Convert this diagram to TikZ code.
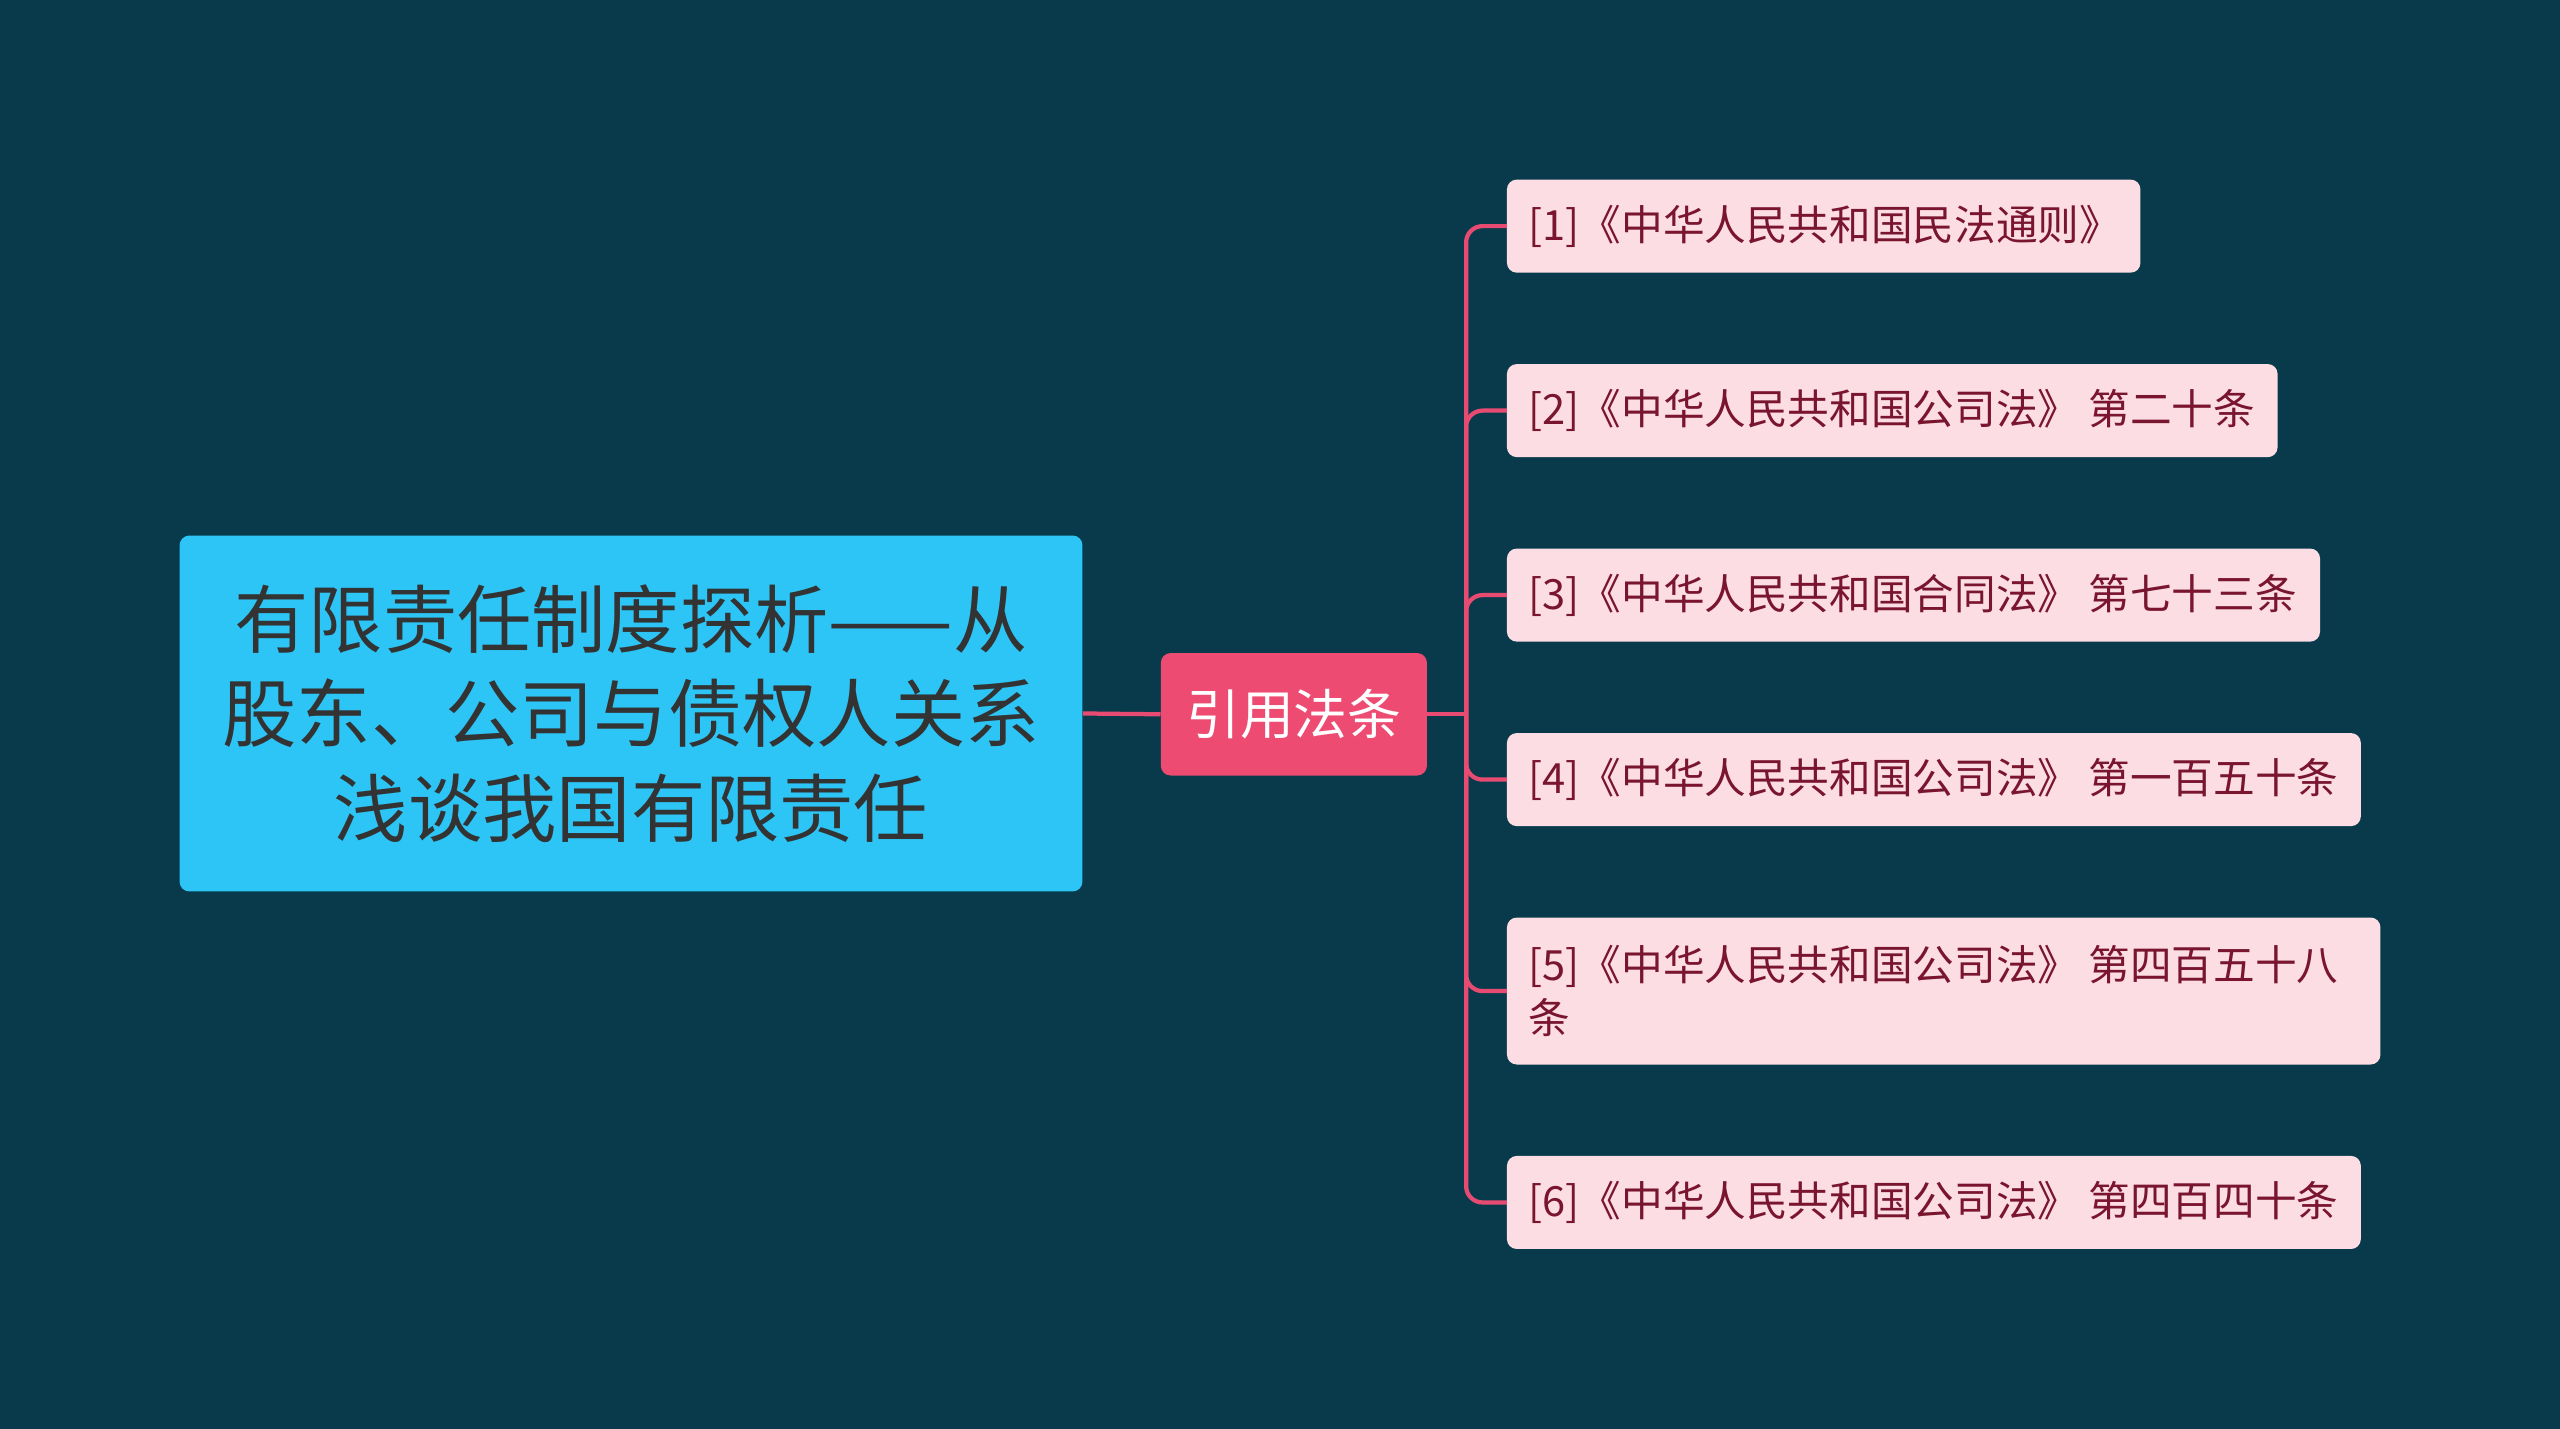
\documentclass[tikz,border=0pt]{standalone}
\usepackage{fontspec}
\setmainfont{Noto Sans CJK SC}
\begin{document}
\begin{tikzpicture}[x=1pt,y=-1pt]
\definecolor{bg}{HTML}{083A4C}
\definecolor{rootc}{HTML}{2CC5F5}
\definecolor{midc}{HTML}{EE4B72}
\definecolor{leafc}{HTML}{FCDDE3}
\definecolor{leaft}{HTML}{7A1530}
\definecolor{linec}{HTML}{E84B72}
\fill[bg] (0,0) rectangle (1568,875);
\useasboundingbox (0,0) rectangle (1568,875);
\tikzset{leaf/.style={fill=leafc,rounded corners=6pt,text=leaft,font=\fontsize{25.5}{32}\selectfont,anchor=north west,inner sep=0pt,align=left},
 conn/.style={draw=linec,line width=2.6pt,rounded corners=10pt}}
\node[fill=rootc,rounded corners=6pt,minimum width=553,minimum height=218,text=black!80,align=center,font=\fontsize{45.5}{58}\selectfont] (root) at (386.5,437) {有限责任制度探析——从\\股东、公司与债权人关系\\浅谈我国有限责任};
\node[fill=midc,rounded corners=6pt,minimum width=163,minimum height=75,text=white,font=\fontsize{33}{36}\selectfont] (mid) at (792.5,437.5) {引用法条};
\newcommand{\leafnode}[5]{\path[fill=leafc,rounded corners=6pt] (923,#2) rectangle (#3,#4);
 \node[leaf,fill=none,anchor=west] (#1) at (936,{(#2+#4)/2}) {#5};
 \coordinate (#1l) at (923,{(#2+#4)/2});}
\leafnode{l1}{110}{1311}{167}{[1]《中华人民共和国民法通则》}
\leafnode{l2}{223}{1395}{280}{[2]《中华人民共和国公司法》 第二十条}
\leafnode{l3}{336}{1421}{393}{[3]《中华人民共和国合同法》 第七十三条}
\leafnode{l4}{449}{1446}{506}{[4]《中华人民共和国公司法》 第一百五十条}
\leafnode{l5}{562}{1458}{652}{[5]《中华人民共和国公司法》 第四百五十八\\条}
\leafnode{l6}{708}{1446}{765}{[6]《中华人民共和国公司法》 第四百四十条}
\draw[conn] (root.east) -- (mid.west);
\coordinate (j) at (898,437.5);
\draw[conn] (mid.east) -- (j);
\foreach \n in {l1,l2,l3,l4,l5,l6} \draw[conn] (j) |- (\n l);
\end{tikzpicture}
\end{document}
